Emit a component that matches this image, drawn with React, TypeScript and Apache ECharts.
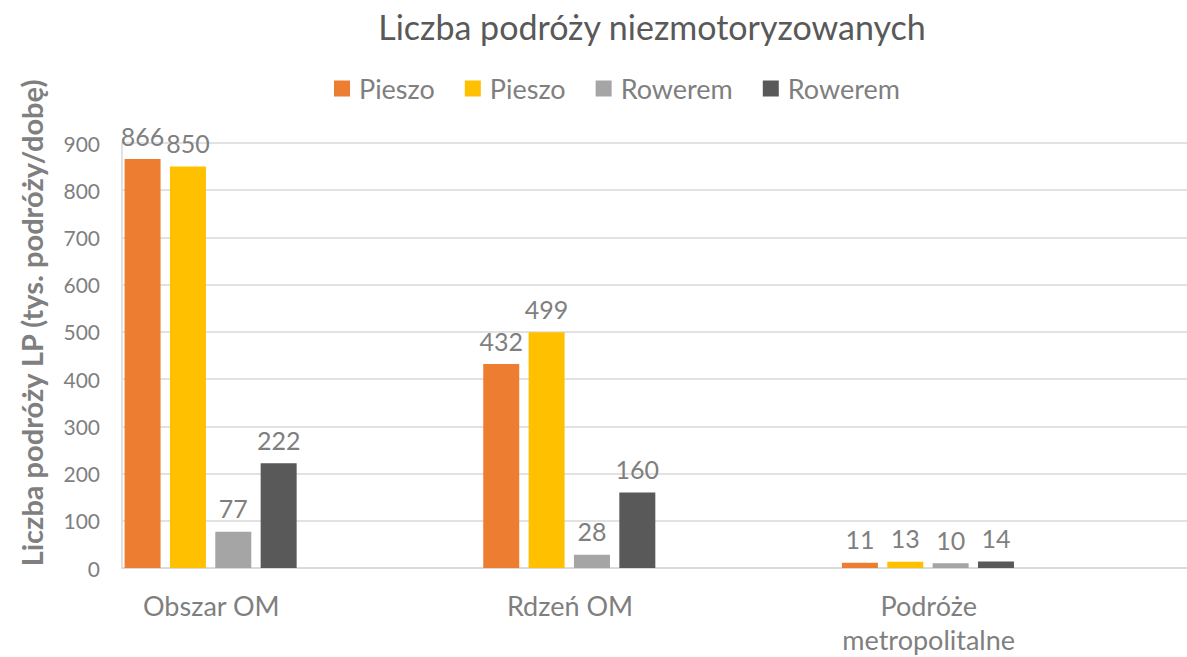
import React, { useEffect, useRef } from "react";
import * as echarts from "echarts";

const categories = ["Obszar OM", "Rdzeń OM", "Podróże\nmetropolitalne"];
const seriesNames = ["Pieszo#1", "Pieszo#2", "Rowerem#1", "Rowerem#2"];
const pieszo1 = [866, 432, 11];
const pieszo2 = [850, 499, 13];
const rowerem1 = [77, 28, 10];
const rowerem2 = [222, 160, 14];
const colors = ["#ED7D31", "#FFC000", "#A5A5A5", "#595959"];
const yTicks = { min: 0, max: 900, interval: 100 };

const FONT = "Lato, 'Open Sans', sans-serif";

export default function App() {
  const ref = useRef<HTMLDivElement>(null);
  useEffect(() => {
    if (!ref.current) return;
    const chart = echarts.init(ref.current, undefined, { renderer: "svg", width: 1187, height: 657 });
    const values = [pieszo1, pieszo2, rowerem1, rowerem2];
    const real = values.map((d, i) => ({
      name: seriesNames[i],
      type: "bar",
      data: d,
      barWidth: 36,
      barGap: "26%",
      itemStyle: { color: colors[i] },
      label: {
        show: true,
        position: "top",
        distance: 11,
        fontSize: 25,
        color: "#7f7f7f",
        fontFamily: FONT,
      },
    }));
    const pads = [1, 2, 3, 4].map((k) => ({
      name: "_pad" + k,
      type: "bar",
      data: ["-", "-", "-"],
      barWidth: 36,
      barGap: "26%",
      silent: true,
    }));
    chart.setOption({
      animation: false,
      backgroundColor: "#ffffff",
      textStyle: { fontFamily: FONT },
      title: {
        text: "Liczba podróży niezmotoryzowanych",
        left: 647,
        textAlign: "center",
        top: 4,
        textStyle: { fontSize: 34, fontWeight: "normal", color: "#595959", fontFamily: FONT },
      },
      legend: {
        data: seriesNames,
        left: 329,
        top: 70,
        icon: "rect",
        itemWidth: 16,
        itemHeight: 16,
        itemGap: 30,
        formatter: (n: string) => n.split("#")[0],
        textStyle: { fontSize: 27, color: "#7f7f7f", fontFamily: FONT, padding: [0, 0, 0, 4] },
      },
      grid: {
        left: 122,
        top: 143,
        width: 1076,
        height: 425,
        containLabel: false,
        outerBoundsMode: "none",
      },
      xAxis: {
        type: "category",
        data: categories,
        axisLine: { lineStyle: { color: "#d9d9d9", width: 1.5 } },
        axisTick: { show: false },
        axisLabel: {
          fontSize: 27,
          color: "#7f7f7f",
          fontFamily: FONT,
          margin: 20,
          lineHeight: 34,
          padding: [0, 180, 0, 0],
          interval: 0,
        },
      },
      yAxis: {
        type: "value",
        min: yTicks.min,
        max: yTicks.max,
        interval: yTicks.interval,
        name: "Liczba podróży LP (tys. podróży/dobę)",
        nameLocation: "middle",
        nameGap: 76,
        nameTextStyle: {
          fontSize: 29,
          fontWeight: "bold",
          color: "#7f7f7f",
          fontFamily: FONT,
          padding: [0, 0, 0, 65],
        },
        axisLine: { show: true, lineStyle: { color: "#d9d9d9", width: 1.5 } },
        axisTick: { show: false },
        splitLine: { lineStyle: { color: "#d9d9d9", width: 1.5 } },
        axisLabel: { fontSize: 21, color: "#7f7f7f", fontFamily: FONT, margin: 22 },
      },
      series: [...real, ...pads],
    });
    return () => chart.dispose();
  }, []);
  return (
    <div
      ref={ref}
      style={{
        position: "fixed",
        left: 0,
        top: 0,
        width: 1187,
        height: 657,
        overflow: "hidden",
        background: "#fff",
      }}
    />
  );
}
